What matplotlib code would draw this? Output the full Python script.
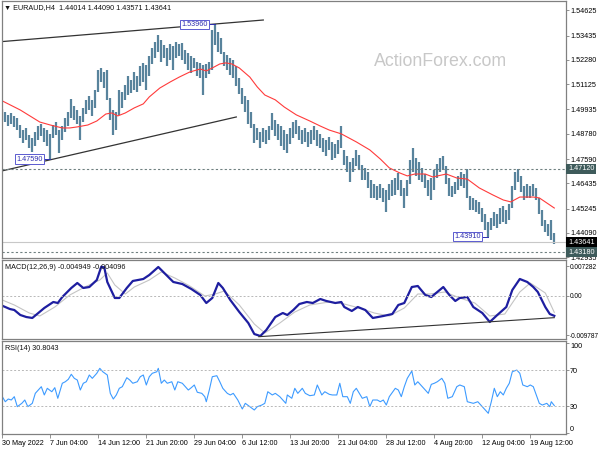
import matplotlib
matplotlib.use("Agg")
import matplotlib.pyplot as plt
import numpy as np

plt.rcParams['font.family'] = ['Liberation Sans', 'DejaVu Sans']

# ---------------- data ----------------
# EURAUD H4, high/low of every second bar
highs = [
    1.4996, 1.4982, 1.4968, 1.4977, 1.4963, 1.4953, 1.4920, 1.4896, 1.4906, 1.4873,
    1.4859, 1.4887, 1.4915, 1.4925, 1.4906, 1.4896, 1.4878, 1.4920, 1.4934, 1.4896,
    1.4915, 1.4953, 1.4982, 1.5043, 1.5010, 1.4991, 1.4963, 1.5001, 1.5039, 1.5058,
    1.5039, 1.5086, 1.5181, 1.5190, 1.5171, 1.5181, 1.5048, 1.4991, 1.4982, 1.5086,
    1.5076, 1.5110, 1.5152, 1.5133, 1.5171, 1.5152, 1.5200, 1.5214, 1.5204, 1.5247,
    1.5285, 1.5313, 1.5346, 1.5323, 1.5299, 1.5285, 1.5304, 1.5294, 1.5313, 1.5304,
    1.5308, 1.5275, 1.5261, 1.5247, 1.5237, 1.5218, 1.5214, 1.5204, 1.5209, 1.5218,
    1.5370, 1.5396, 1.5361, 1.5332, 1.5266, 1.5252, 1.5237, 1.5228, 1.5200, 1.5143,
    1.5095, 1.5058, 1.5039, 1.4982, 1.4925, 1.4906, 1.4887, 1.4906, 1.4896, 1.4915,
    1.4977, 1.4944, 1.4925, 1.4915, 1.4896, 1.4878, 1.4906, 1.4934, 1.4944, 1.4915,
    1.4896, 1.4906, 1.4887, 1.4896, 1.4915, 1.4896, 1.4878, 1.4859, 1.4849, 1.4863,
    1.4840, 1.4830, 1.4849, 1.4915, 1.4802, 1.4773, 1.4745, 1.4764, 1.4802, 1.4778,
    1.4731, 1.4717, 1.4698, 1.4660, 1.4641, 1.4631, 1.4641, 1.4622, 1.4612, 1.4641,
    1.4660, 1.4669, 1.4693, 1.4660, 1.4622, 1.4660, 1.4754, 1.4811, 1.4764, 1.4745,
    1.4717, 1.4688, 1.4660, 1.4669, 1.4707, 1.4736, 1.4764, 1.4773, 1.4726, 1.4669,
    1.4631, 1.4650, 1.4679, 1.4698, 1.4688, 1.4712, 1.4584, 1.4575, 1.4565, 1.4556,
    1.4527, 1.4499, 1.4461, 1.4480, 1.4508, 1.4499, 1.4527, 1.4537, 1.4518, 1.4546,
    1.4631, 1.4698, 1.4713, 1.4679, 1.4631, 1.4641, 1.4631, 1.4641, 1.4622, 1.4575,
    1.4518, 1.4470, 1.4451, 1.4470, 1.4409,
]
lows = [
    1.4944, 1.4934, 1.4915, 1.4925, 1.4911, 1.4896, 1.4859, 1.4835, 1.4849, 1.4811,
    1.4792, 1.4821, 1.4849, 1.4868, 1.4840, 1.4821, 1.4759, 1.4859, 1.4873, 1.4788,
    1.4849, 1.4887, 1.4915, 1.4953, 1.4944, 1.4925, 1.4849, 1.4934, 1.4972, 1.4991,
    1.4963, 1.5001, 1.5076, 1.5124, 1.5095, 1.5039, 1.4944, 1.4873, 1.4896, 1.4968,
    1.5001, 1.5039, 1.5062, 1.5072, 1.5086, 1.5076, 1.5105, 1.5124, 1.5086, 1.5152,
    1.5209, 1.5237, 1.5266, 1.5218, 1.5237, 1.5200, 1.5228, 1.5181, 1.5237, 1.5247,
    1.5228, 1.5209, 1.5181, 1.5166, 1.5190, 1.5152, 1.5143, 1.5062, 1.5143, 1.5162,
    1.5181, 1.5299, 1.5266, 1.5256, 1.5200, 1.5181, 1.5157, 1.5143, 1.5105, 1.5067,
    1.5020, 1.4982, 1.4925, 1.4906, 1.4835, 1.4849, 1.4811, 1.4840, 1.4830, 1.4849,
    1.4896, 1.4868, 1.4849, 1.4821, 1.4802, 1.4788, 1.4830, 1.4859, 1.4878, 1.4849,
    1.4830, 1.4840, 1.4816, 1.4830, 1.4849, 1.4821, 1.4811, 1.4792, 1.4773, 1.4802,
    1.4754, 1.4764, 1.4783, 1.4811, 1.4731, 1.4698, 1.4650, 1.4698, 1.4726, 1.4707,
    1.4660, 1.4660, 1.4622, 1.4575, 1.4575, 1.4565, 1.4575, 1.4556, 1.4508, 1.4565,
    1.4584, 1.4589, 1.4612, 1.4584, 1.4527, 1.4584, 1.4641, 1.4698, 1.4679, 1.4660,
    1.4650, 1.4622, 1.4584, 1.4565, 1.4612, 1.4669, 1.4698, 1.4707, 1.4641, 1.4584,
    1.4579, 1.4594, 1.4612, 1.4631, 1.4622, 1.4575, 1.4518, 1.4518, 1.4508, 1.4499,
    1.4461, 1.4423, 1.4391, 1.4423, 1.4442, 1.4432, 1.4451, 1.4461, 1.4451, 1.4470,
    1.4527, 1.4612, 1.4650, 1.4603, 1.4565, 1.4575, 1.4575, 1.4584, 1.4565, 1.4499,
    1.4442, 1.4413, 1.4395, 1.4376, 1.4357,
]
bar_step = 2  # each listed bar stands for two H4 bars

# red moving average
ma_idx = [0, 12, 25, 32, 40, 45, 50, 57, 63, 69, 73, 77, 82, 88, 94, 98, 105, 112, 118, 125,
          132, 136, 140, 145, 149, 153, 158, 165, 170, 175, 182, 188, 196, 205, 212, 218, 226,
          236, 245, 252, 258, 265, 270, 275, 282, 287, 296, 303, 310, 318, 327, 334, 339, 345,
          354, 358, 363, 368]
ma_val = [1.5034, 1.4991, 1.4934, 1.4920, 1.4906, 1.4906, 1.4911, 1.4920, 1.4939, 1.4972,
          1.4977, 1.4963, 1.4977, 1.5001, 1.5020, 1.5053, 1.5095, 1.5124, 1.5147, 1.5171,
          1.5185, 1.5176, 1.5190, 1.5209, 1.5214, 1.5209, 1.5190, 1.5147, 1.5100, 1.5062,
          1.5039, 1.5005, 1.4968, 1.4939, 1.4915, 1.4896, 1.4878, 1.4840, 1.4802, 1.4759,
          1.4717, 1.4693, 1.4679, 1.4688, 1.4688, 1.4674, 1.4688, 1.4669, 1.4664, 1.4622,
          1.4589, 1.4565, 1.4556, 1.4579, 1.4579, 1.4575, 1.4551, 1.4527]

# channel lines
upper_idx, upper_val = [0, 174], [1.5315, 1.5417]
lower_idx, lower_val = [0, 156], [1.4703, 1.4958]

resistance = 1.47120
support = 1.43180
last_price = 1.43641
marked_idx = [142, 32, 324]
marked_val = [1.53960, 1.47590, 1.43910]

price_ticks = [1.54625, 1.53435, 1.52280, 1.51125, 1.49935, 1.48780, 1.47590,
               1.46435, 1.45245, 1.44090, 1.42935]

# MACD(12,26,9)
macd_idx = [0, 5, 8, 12, 16, 20, 24, 28, 34, 37, 40, 46, 50, 54, 58, 63, 66, 68, 70, 75,
            78, 83, 87, 94, 98, 104, 108, 114, 120, 126, 132, 136, 140, 144, 147, 152, 158,
            164, 168, 172, 176, 182, 187, 190, 194, 198, 203, 207, 212, 216, 222, 226, 228,
            233, 237, 242, 247, 254, 260, 264, 268, 273, 277, 282, 286, 290, 294, 298, 302,
            305, 310, 314, 320, 325, 330, 336, 340, 345, 350, 354, 357, 362, 365, 368]
macd_val = [-0.00245, -0.00326, -0.00351, -0.00474, -0.00524, -0.00548, -0.00425, -0.00301,
            -0.00153, -0.00178, -0.00030, 0.00193, 0.00316, 0.00193, 0.00217, 0.00390, 0.00720,
            0.00700, 0.00341, -0.00054, -0.00054, 0.00193, 0.00366, 0.00415, 0.00514, 0.00711,
            0.00563, 0.00341, 0.00291, 0.00168, 0.00020, -0.00178, -0.00054, 0.00316, 0.00193,
            -0.00104, -0.00400, -0.00672, -0.00944, -0.00993, -0.00845, -0.00524, -0.00425,
            -0.00474, -0.00351, -0.00203, -0.00153, -0.00178, -0.00079, -0.00128, -0.00178,
            -0.00153, -0.00277, -0.00375, -0.00277, -0.00351, -0.00548, -0.00499, -0.00450,
            -0.00227, -0.00178, 0.00217, 0.00242, 0.00020, -0.00030, 0.00094, 0.00217, 0.00020,
            -0.00128, -0.00054, -0.00030, -0.00277, -0.00425, -0.00647, -0.00474, -0.00277,
            0.00143, 0.00415, 0.00341, 0.00217, 0.00094, -0.00277, -0.00450, -0.004949]
sig_idx = [0, 8, 18, 25, 35, 45, 55, 65, 70, 75, 82, 88, 98, 106, 115, 125, 135, 142, 148,
           158, 168, 175, 185, 195, 205, 218, 228, 238, 248, 258, 268, 277, 285, 295, 305,
           315, 325, 335, 345, 352, 362, 368]
sig_val = [-0.00104, -0.00227, -0.00425, -0.00499, -0.00277, 0.00020, 0.00217, 0.00390,
           0.00563, 0.00267, 0.00044, 0.00217, 0.00390, 0.00588, 0.00440, 0.00242, -0.00005,
           0.00044, 0.00119, -0.00227, -0.00697, -0.00919, -0.00672, -0.00400, -0.00227,
           -0.00153, -0.00203, -0.00301, -0.00425, -0.00499, -0.00301, 0.00044, 0.00044,
           0.00094, -0.00054, -0.00178, -0.00499, -0.00450, 0.00094, 0.00316, 0.00069,
           -0.004096]
macd_trend_idx, macd_trend_val = [171, 368], [-0.0101, -0.0054]
macd_ticks = [0.007282, 0.0, -0.009787]
macd_tick_labels = ['0.007282', '0.00', '-0.009787']

# RSI(14)
rsi_idx = [0, 2, 4, 6, 8, 10, 13, 15, 17, 20, 22, 24, 26, 28, 30, 33, 35, 37, 40, 42,
           44, 46, 48, 50, 52, 54, 56, 58, 60, 63, 65, 67, 70, 72, 74, 76, 78, 80, 83, 85,
           87, 90, 92, 94, 96, 98, 100, 103, 104, 106, 108, 110, 113, 115, 117, 120, 124, 126,
           128, 130, 133, 135, 136, 138, 140, 143, 145, 147, 150, 152, 154, 157, 160, 162,
           165, 168, 170, 173, 175, 177, 180, 182, 185, 189, 190, 193, 195, 197,
           200, 202, 205, 208, 210, 213, 215, 218, 220, 223, 225, 227, 230, 232, 234, 236,
           238, 240, 243, 245, 247, 250, 252, 254, 256, 258, 262, 264, 266, 268, 270, 273,
           275, 277, 280, 282, 284, 286, 288, 290, 293, 295, 297, 300, 303, 305, 308, 310,
           314, 317, 320, 322, 324, 326, 328, 330, 332, 334, 336, 338, 340, 343, 345, 347,
           350, 352, 354, 356, 358, 360, 363, 365, 366, 368]
rsi_val = [40.7, 35.1, 38.1, 37.0, 40.7, 29.6, 33.3, 37.0, 29.6, 33.3, 44.4, 48.1, 51.8, 42.6,
           50.0, 46.2, 50.7, 38.9, 55.6, 57.3, 60.0, 65.6, 61.1, 59.2, 48.1, 55.6, 57.3, 64.8,
           61.1, 66.7, 72.2, 68.4, 64.8, 44.4, 38.1, 42.6, 50.0, 51.8, 61.8, 59.2, 55.6, 57.3,
           62.9, 64.8, 53.7, 62.9, 66.7, 68.4, 72.2, 55.6, 59.2, 55.6, 57.3, 48.1, 57.3, 55.6,
           48.1, 50.7, 53.7, 45.6, 44.4, 40.7, 35.1, 48.1, 62.9, 64.0, 57.3, 50.0, 44.4, 42.6,
           44.4, 37.0, 27.0, 33.3, 29.6, 25.9, 29.6, 31.4, 33.3, 46.2, 42.6, 44.4, 40.7, 33.3,
           42.6, 38.9, 50.0, 44.4,
           50.0, 44.4, 41.8, 42.6, 53.7, 42.6, 46.2, 43.3, 42.6, 42.6, 55.6, 40.7, 40.7, 33.3,
           46.2, 50.0, 44.4, 38.9, 40.7, 29.6, 37.0, 37.0, 35.1, 37.0, 31.4, 40.7, 50.0, 48.1,
           40.7, 51.8, 61.1, 69.2, 53.7, 57.3, 51.8, 48.1, 44.4, 54.4, 55.6, 57.3, 61.1, 55.6,
           38.9, 40.7, 51.8, 53.7, 51.8, 35.1, 33.3, 35.1, 29.6, 25.9, 22.2, 35.1, 50.0, 40.7,
           46.2, 42.6, 50.0, 55.6, 68.4, 70.3, 66.7, 53.7, 51.8, 53.7, 51.8, 42.6, 33.3, 31.4,
           33.3, 29.6, 35.1, 30.8043]

time_labels = ['30 May 2022', '7 Jun 04:00', '14 Jun 12:00', '21 Jun 20:00', '29 Jun 04:00',
               '6 Jul 12:00', '13 Jul 20:00', '21 Jul 04:00', '28 Jul 12:00', '4 Aug 20:00',
               '12 Aug 04:00', '19 Aug 12:00']
time_idx = [32 * i for i in range(len(time_labels))]

# ---------------- figure ----------------
W, H = 600, 450
fig = plt.figure(figsize=(6, 4.5), dpi=100)


def panel(top, bottom):
    return fig.add_axes([2 / W, 1 - bottom / H, 564 / W, (bottom - top) / H])


ax1 = panel(1, 258)
ax2 = panel(260, 339)
ax3 = panel(341, 434)

FS = 5.2
frame = '#808080'
for ax in (ax1, ax2, ax3):
    ax.set_xlim(-0.2, 375.8)
    ax.yaxis.tick_right()
    ax.tick_params(axis='y', right=True, length=2, width=0.6, color=frame,
                   labelsize=FS, pad=1.0)
    ax.tick_params(axis='x', bottom=False, labelbottom=False)
    for s in ax.spines.values():
        s.set_color(frame)
        s.set_linewidth(0.9)

# ---- price panel ----
bar_idx = np.arange(len(highs)) * bar_step
ax1.vlines(bar_idx, lows, highs, color='#58839c', lw=1.6)
ax1.plot(ma_idx, ma_val, color='#ff3b3b', lw=0.8)
ax1.plot(upper_idx, upper_val, color='#333333', lw=0.9)
ax1.plot(lower_idx, lower_val, color='#333333', lw=0.9)
ax1.axhline(resistance, color='#6f8080', lw=0.8, ls=(0, (2, 2)))
ax1.axhline(support, color='#6f8080', lw=0.8, ls=(0, (2, 2)))
ax1.axhline(last_price, color='#c8c8c8', lw=0.8)
ax1.set_ylim(1.42904, 1.5507)
ax1.set_yticks(price_ticks)
ax1.set_yticklabels([f'{v:.5f}' for v in price_ticks])

# price labels on the swing points
box = dict(facecolor='white', edgecolor='#5a5ad0', lw=0.7, pad=0.8)
for i, v in zip(marked_idx, marked_val):
    ax1.text(i - 5, v, f'{v:.5f}', ha='right', va='center', fontsize=FS,
             color='#2e2eb0', bbox=box)
    ax1.plot([i - 5, i], [v, v], color='#2e2eb0', lw=0.7)

for v, fc in [(resistance, '#3e5b5b'), (last_price, '#000000'), (support, '#3e5b5b')]:
    ax1.text(1.004, v, f'{v:.5f}', transform=ax1.get_yaxis_transform(), ha='left',
             va='center', fontsize=FS, color='white', zorder=5, clip_on=False,
             bbox=dict(facecolor=fc, edgecolor='none', pad=1.3))

ax1.text(0.778, 0.763, 'ActionForex.com', transform=ax1.transAxes, ha='center',
         va='center', fontsize=12.8, color='#c8c8c8')
ax1.text(0.004, 0.976, '\u25bc EURAUD,H4  1.44014 1.44090 1.43571 1.43641',
         transform=ax1.transAxes, ha='left', va='center', fontsize=FS, color='#111111')

# ---- MACD panel ----
ax2.plot(sig_idx, sig_val, color='#c4c4c4', lw=0.8)
ax2.plot(macd_idx, macd_val, color='#1e1ea0', lw=1.6)
ax2.plot(macd_trend_idx, macd_trend_val, color='#333333', lw=0.8)
ax2.axhline(0, color='#b8b8b8', lw=0.7, ls=(0, (2, 2)))
ax2.set_ylim(-0.01067, 0.00884)
ax2.set_yticks(macd_ticks)
ax2.set_yticklabels(macd_tick_labels)
ax2.tick_params(axis='y', labelsize=4.7, pad=0.5)
ax2.text(0.006, 0.9, 'MACD(12,26,9) -0.004949 -0.004096', transform=ax2.transAxes,
         ha='left', va='center', fontsize=FS, color='#111111')

# ---- RSI panel ----
ax3.plot(rsi_idx, rsi_val, color='#3d9bff', lw=0.8)
ax3.axhline(70, color='#b8b8b8', lw=0.7, ls=(0, (2, 2)))
ax3.axhline(30, color='#b8b8b8', lw=0.7, ls=(0, (2, 2)))
ax3.set_ylim(-0.8, 102.6)
ax3.set_yticks([100, 70, 30, 0])
ax3.set_yticklabels(['100', '70', '30', '0'])
lab = ax3.get_yticklabels()
lab[0].set_va('top')
lab[-1].set_va('bottom')
ax3.text(0.006, 0.92, 'RSI(14) 30.8043', transform=ax3.transAxes,
         ha='left', va='center', fontsize=FS, color='#111111')

ax3.tick_params(axis='x', bottom=True, labelbottom=True, length=3, width=0.6,
                color=frame, labelsize=FS, pad=1.5)
ax3.set_xticks(time_idx)
ax3.set_xticklabels(time_labels, ha='left')

fig.savefig('out.png', dpi=100, facecolor='white')
